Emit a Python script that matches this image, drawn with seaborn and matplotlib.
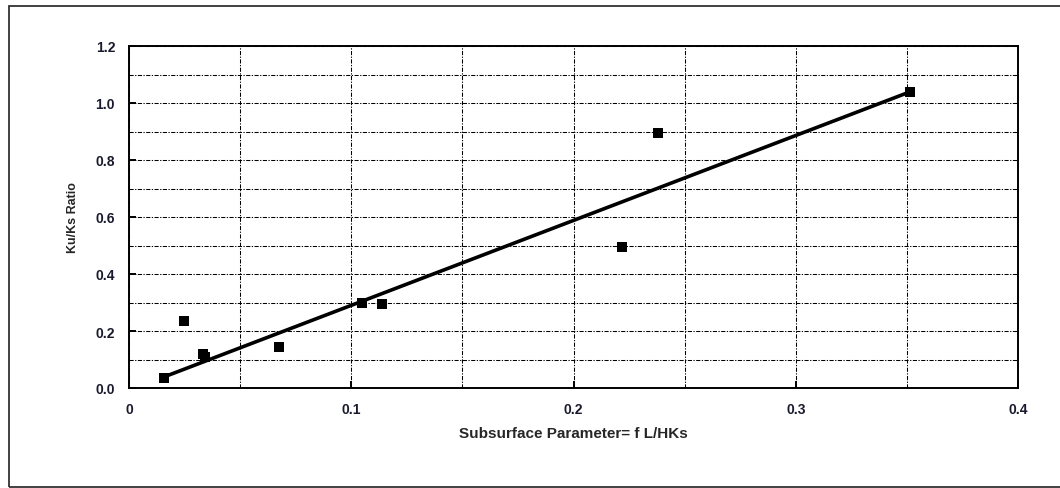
import matplotlib
matplotlib.use("Agg")
import matplotlib.pyplot as plt
import matplotlib.patches as mpatches
from matplotlib.ticker import MultipleLocator, FuncFormatter
import seaborn as sns
import pandas as pd

# values
subsurface = [0.0158, 0.0248, 0.0333, 0.0340, 0.0675, 0.1049, 0.1139, 0.2219, 0.2381, 0.3515]
ratio = [0.035, 0.235, 0.120, 0.110, 0.144, 0.298, 0.295, 0.495, 0.895, 1.040]

# trend line as drawn in the reference (slope / intercept)
trend_slope = 2.98
trend_intercept = -0.008

df = pd.DataFrame({"x": subsurface, "y": ratio})
trend = pd.DataFrame({"x": [min(subsurface), max(subsurface)]})
trend["y"] = trend_slope * trend["x"] + trend_intercept

sns.set_style("white")
plt.rcParams["font.family"] = ["Liberation Sans", "DejaVu Sans"]

fig = plt.figure(figsize=(10.6, 4.89), dpi=100)
ax = fig.add_axes([129 / 1060, 100 / 489, 889 / 1060, 342 / 489])

# outer frame around the chart area
fig.patches.append(mpatches.Rectangle((9 / 1060, 1.5 / 489), 1.2, 480.5 / 489,
                                      transform=fig.transFigure, fill=False,
                                      edgecolor="#333333", linewidth=1.3, zorder=0))

sns.lineplot(data=trend, x="x", y="y", ax=ax, color="black", linewidth=2.6, zorder=3)
sns.scatterplot(data=df, x="x", y="y", ax=ax, marker="s", color="black", s=44,
                linewidth=0, zorder=4)

ax.set_xlim(0, 0.4)
ax.set_ylim(0, 1.2)
ax.xaxis.set_major_locator(MultipleLocator(0.1))
ax.xaxis.set_minor_locator(MultipleLocator(0.05))
ax.yaxis.set_major_locator(MultipleLocator(0.2))
ax.yaxis.set_minor_locator(MultipleLocator(0.1))
ax.xaxis.set_major_formatter(FuncFormatter(lambda v, p: "0" if abs(v) < 1e-9 else "%.1f" % v))
ax.yaxis.set_major_formatter(FuncFormatter(lambda v, p: "%.1f" % v))

grid_ls = (0, (4, 1.4, 1.2, 1.4))
ax.grid(True, which="both", color="black", linestyle=grid_ls, linewidth=0.75)
ax.set_axisbelow(True)

ax.tick_params(which="major", direction="in", length=5, width=1.4, left=True, bottom=True,
               labelsize=10, pad=10, colors="black")
ax.tick_params(which="minor", length=0)
for lab in ax.get_xticklabels() + ax.get_yticklabels():
    lab.set_fontweight("bold")
    lab.set_color("#1a1a2e")

for sp in ax.spines.values():
    sp.set_visible(True)
    sp.set_color("black")
    sp.set_linewidth(1.4)

ax.set_xlabel("Subsurface Parameter= f L/HKs", fontsize=11, fontweight="bold", labelpad=7)
ax.set_ylabel("Ku/Ks Ratio", fontsize=9, fontweight="bold", labelpad=12)

fig.savefig("out.png", dpi=100)
